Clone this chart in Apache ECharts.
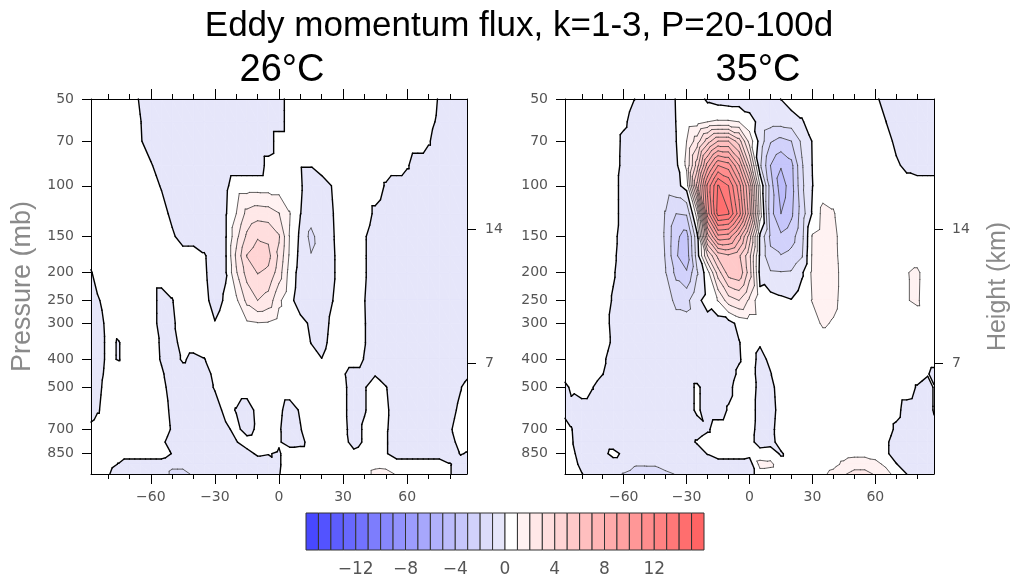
<!DOCTYPE html>
<html><head><meta charset="utf-8">
<script src="https://cdn.jsdelivr.net/npm/echarts@6/dist/echarts.min.js"></script>
<style>html,body{margin:0;padding:0;background:#fff}#c{width:1012px;height:581px}</style>
</head><body><div id="c"></div>
<script>
// ---------------- data ----------------
const lats = [-88,-85,-80,-75,-70,-65,-60,-55,-50,-45,-40,-35,-30,-25,-20,-15,-10,-5,0,5,10,15,20,25,30,35,40,45,50,55,60,65,70,75,80,85,88];
const pressures = [50,60,70,85,100,125,150,175,200,250,300,350,400,450,500,600,700,775,850,925,1000];

// 26°C panel, rows follow "pressures", columns follow "lats"
const field26 = [
[0.5,0.5,0.5,0.5,0.5,-0.1,-0.5,-0.5,-0.5,-0.5,-0.5,-0.5,-0.5,-0.5,-0.5,-0.5,-0.5,-0.5,-0.5,0.5,0.5,0.5,0.5,0.5,0.5,0.5,0.5,0.5,0.5,0.5,0.5,0.5,0.5,-0.1,-0.5,-0.5,-0.5],
[0.5,0.5,0.5,0.5,0.5,0.05,-0.5,-0.5,-0.5,-0.5,-0.5,-0.5,-0.5,-0.5,-0.5,-0.5,-0.5,-0.5,-0.5,0.5,0.5,0.5,0.5,0.5,0.5,0.5,0.5,0.5,0.5,0.5,0.5,0.5,0.3,-0.2,-0.5,-0.5,-0.5],
[0.5,0.5,0.5,0.5,0.5,0.1,-0.5,-0.5,-0.5,-0.5,-0.5,-0.5,-0.5,-0.5,-0.5,-0.5,-0.5,-0.5,0.5,0.5,0.5,0.5,0.5,0.5,0.5,0.5,0.5,0.5,0.5,0.5,0.5,0.5,0.1,-0.5,-0.5,-0.5,-0.5],
[0.5,0.5,0.5,0.5,0.5,0.5,0.1,-0.5,-0.5,-0.5,-0.5,-0.5,-0.5,-0.5,-0.5,-0.5,-0.5,0.3,0.5,0.5,0.05,0.05,0.5,0.5,0.5,0.5,0.5,0.5,0.5,0.5,0.1,-0.5,-0.5,-0.5,-0.5,-0.5,-0.5],
[0.5,0.5,0.5,0.5,0.5,0.5,0.5,-0.1,-0.5,-0.5,-0.5,-0.5,-0.5,-0.2,0.5,0.5,0.5,0.5,0.5,0.5,0.1,-0.5,-0.5,0.05,0.5,0.5,0.5,0.5,-0.1,-0.5,-0.5,-0.5,-0.5,-0.5,-0.5,-0.5,-0.5],
[0.5,0.5,0.5,0.5,0.5,0.5,0.5,0.5,-0.3,-0.5,-0.5,-0.5,-0.5,-0.1,1.0,2.3,2.6,2.5,2.05,1.05,0.02,-0.5,-0.5,-0.05,0.5,0.5,0.5,-0.2,-0.5,-0.5,-0.5,-0.5,-0.5,-0.5,-0.5,-0.5,-0.5],
[0.5,0.5,0.5,0.5,0.5,0.5,0.5,0.5,0.2,-0.5,-0.5,-0.5,-0.5,-0.1,1.7,3.2,3.9,3.8,3.1,0.95,-0.2,-1.3,-0.4,-0.1,0.5,0.5,0.1,-0.5,-0.5,-0.5,-0.5,-0.5,-0.5,-0.5,-0.5,-0.5,-0.5],
[0.5,0.5,0.5,0.5,0.5,0.5,0.5,0.5,0.5,0.5,0.5,0.1,-0.5,-0.1,2.2,4.05,4.6,4.3,2.8,0.85,-0.3,-0.95,-0.5,-0.15,0.5,0.5,0.1,-0.5,-0.5,-0.5,-0.5,-0.5,-0.5,-0.5,-0.5,-0.5,-0.5],
[-0.1,0.5,0.5,0.5,0.5,0.5,0.5,0.5,0.5,0.5,0.5,0.15,-0.5,-0.1,1.9,3.4,4.05,3.8,2.5,0.6,-0.4,-0.6,-0.5,-0.15,0.5,0.5,0.1,-0.5,-0.5,-0.5,-0.5,-0.5,-0.5,-0.5,-0.5,-0.5,-0.5],
[-0.5,-0.15,0.5,0.5,0.5,0.5,0.5,-0.4,-0.05,0.5,0.5,0.3,-0.4,0.15,0.8,2.3,3.0,2.6,1.2,0.3,-0.5,-0.5,-0.5,-0.02,0.5,0.5,0.02,-0.5,-0.5,-0.5,-0.5,-0.5,-0.5,-0.5,-0.5,-0.5,-0.5],
[-0.5,-0.3,0.2,0.5,0.5,0.5,0.5,-0.4,-0.2,0.5,0.5,0.5,0.05,0.5,0.6,0.85,0.95,0.9,0.6,0.4,0.3,-0.15,-0.4,0.2,0.5,0.5,0.05,-0.5,-0.5,-0.5,-0.5,-0.5,-0.5,-0.5,-0.5,-0.5,-0.5],
[-0.5,-0.3,0.15,-0.05,0.5,0.5,0.5,-0.15,-0.5,0.5,0.5,0.5,0.5,0.5,0.5,0.5,0.5,0.5,0.5,0.5,0.5,-0.02,-0.3,0.3,0.5,0.5,0.05,-0.5,-0.5,-0.5,-0.5,-0.5,-0.5,-0.5,-0.5,-0.5,-0.5],
[-0.5,-0.3,0.15,-0.05,0.5,0.5,0.5,-0.1,-0.5,0.15,-0.3,-0.05,0.5,0.5,0.5,0.5,0.5,0.5,0.5,0.5,0.5,0.3,0.02,0.5,0.5,0.5,-0.05,-0.5,-0.5,-0.5,-0.5,-0.5,-0.5,-0.5,-0.5,-0.5,-0.5],
[-0.5,-0.25,0.2,0.5,0.5,0.5,0.5,0.15,-0.5,-0.5,-0.5,-0.5,0.3,0.5,0.5,0.5,0.5,0.5,0.5,0.5,0.5,0.5,0.5,0.5,0.1,-0.4,-0.4,-0.05,-0.5,-0.5,-0.5,-0.5,-0.5,-0.5,-0.5,-0.5,-0.2],
[-0.5,-0.2,0.3,0.5,0.5,0.5,0.5,0.3,-0.4,-0.5,-0.5,-0.5,0.1,0.5,0.5,0.5,0.5,0.5,0.5,0.5,0.5,0.5,0.5,0.5,0.15,-0.3,-0.05,0.3,0.05,-0.5,-0.5,-0.5,-0.5,-0.5,-0.5,-0.05,0.3],
[-0.5,-0.1,0.4,0.5,0.5,0.5,0.5,0.4,-0.2,-0.5,-0.5,-0.5,-0.5,0.3,-0.05,-0.5,0.3,0.5,0.2,-0.4,0.1,0.5,0.5,0.5,0.15,-0.3,-0.05,0.3,0.15,-0.4,-0.5,-0.5,-0.5,-0.5,-0.3,0.2,0.4],
[0.3,0.5,0.5,0.5,0.5,0.5,0.5,0.5,-0.1,-0.5,-0.5,-0.5,-0.5,-0.2,0.25,-0.4,0.2,0.5,0.1,-0.5,-0.05,0.5,0.5,0.5,0.2,-0.3,0.1,0.4,0.1,-0.4,-0.5,-0.5,-0.5,-0.5,-0.1,0.4,0.5],
[0.5,0.5,0.5,0.5,0.5,0.5,0.5,0.2,-0.4,-0.5,-0.5,-0.5,-0.5,-0.5,-0.05,0.4,0.5,0.5,0.1,-0.4,-0.3,0.4,0.5,0.5,0.3,-0.3,0.1,0.4,0.1,-0.5,-0.5,-0.5,-0.5,-0.5,-0.3,0.3,0.3],
[0.5,0.5,0.5,0.5,0.5,0.5,0.5,0.5,-0.05,-0.5,-0.5,-0.5,-0.5,-0.5,-0.5,-0.3,0.15,0.05,-0.1,0.5,0.5,0.5,0.5,0.5,0.5,0.2,0.4,0.5,0.1,-0.5,-0.5,-0.5,-0.5,-0.5,-0.4,0.05,-0.05],
[0.5,0.5,0.3,-0.05,-0.5,-0.5,-0.5,-0.5,-0.8,-0.8,-0.5,-0.5,-0.5,-0.5,-0.5,-0.5,-0.5,-0.5,-0.1,0.5,0.5,0.5,0.5,0.5,0.5,0.5,0.5,0.7,0.6,0.5,0.5,0.5,0.5,0.5,0.05,-0.3,-0.5],
[0.5,0.5,0.1,-0.5,-0.5,-0.5,-0.5,-0.5,-1.2,-1.2,-0.9,-0.5,-0.5,-0.5,-0.5,-0.5,-0.5,-0.5,-0.05,0.5,0.5,0.5,0.5,0.5,0.5,0.5,0.5,1.3,1.4,0.9,0.5,0.5,0.5,0.5,0.05,-0.4,-0.5]
];

// 35°C panel
const field35 = [
[0.5,0.5,0.5,0.5,0.5,0.5,0.5,0.02,-0.5,-0.5,-0.5,0.05,0.5,0.5,-0.2,-0.4,-0.5,-0.5,-0.6,-0.8,-0.7,0.02,0.5,0.5,0.5,0.5,0.5,0.5,0.5,0.5,0.2,-0.4,-0.5,-0.5,-0.5,-0.5,-0.5],
[0.5,0.5,0.5,0.5,0.5,0.5,0.2,-0.4,-0.5,-0.5,-0.5,0.02,0.5,0.6,1.0,1.1,1.1,1.0,0.4,-0.3,-0.6,-0.6,-0.5,-0.1,0.5,0.5,0.5,0.5,0.5,0.5,0.5,0.02,-0.5,-0.5,-0.5,-0.5,-0.5],
[0.5,0.5,0.5,0.5,0.5,0.5,-0.25,-0.5,-0.5,-0.5,-0.5,-0.02,1.0,2.5,4.5,6,6,4.5,1.6,-0.4,-1.9,-2.3,-2.0,-0.8,0.05,0.5,0.5,0.5,0.5,0.5,0.5,0.5,-0.3,-0.5,-0.5,-0.5,-0.5],
[0.5,0.5,0.5,0.5,0.5,0.5,-0.3,-0.5,-0.5,-0.5,-0.5,-0.2,1.2,4.5,8.5,11,10.5,8,4,-0.8,-3.0,-3.9,-3.3,-1.1,0.02,0.5,0.5,0.5,0.5,0.5,0.5,0.5,0.2,-0.3,-0.5,-0.5,-0.5],
[0.5,0.5,0.5,0.5,0.5,0.5,-0.5,-0.5,-0.5,-0.5,-0.5,-0.3,0.4,6.3,11.3,14.1,13.0,10.5,6.8,1.0,-2.5,-4.6,-3.4,-1.2,-0.02,0.5,0.5,0.5,0.5,0.5,0.5,0.5,0.5,0.5,0.5,0.5,0.5],
[0.5,0.5,0.5,0.5,0.5,0.5,-0.5,-0.5,-0.5,-0.5,-1.05,-2.0,-1.9,1.5,10.5,14.4,14.1,11.5,7.5,1.5,-2.6,-4.0,-3.2,-1.5,0.1,1.3,1.1,0.4,0.5,0.5,0.5,0.5,0.5,0.5,0.5,0.5,0.5],
[0.5,0.5,0.5,0.5,0.5,0.3,-0.5,-0.5,-0.5,-0.5,-1.1,-2.8,-3.4,-0.3,6.5,9.7,9.5,7.5,4.5,-0.2,-2.2,-2.8,-2.4,-1.3,1.1,1.4,1.3,0.5,0.5,0.5,0.5,0.5,0.5,0.5,0.5,0.5,0.5],
[0.5,0.5,0.5,0.5,0.5,0.2,-0.5,-0.5,-0.5,-0.5,-1.05,-2.9,-3.6,-0.5,3.0,5.3,5.8,5.2,3.3,-0.2,-1.8,-1.95,-1.7,-1.1,1.15,1.5,1.35,0.5,0.5,0.5,0.5,0.5,0.5,0.5,0.5,0.5,0.5],
[0.5,0.5,0.5,0.5,0.5,0.1,-0.5,-0.5,-0.5,-0.5,-0.98,-2.3,-2.9,-1.1,0.6,3.5,5.5,5.8,3.5,-0.3,-0.9,-0.95,-0.9,-0.15,1.2,1.5,1.4,0.6,0.5,0.5,0.5,0.5,0.5,0.95,1.2,0.4,0.5],
[0.5,0.5,0.5,0.5,0.5,-0.1,-0.5,-0.5,-0.5,-0.5,-0.6,-1.2,-1.3,-0.2,0.3,1.05,2.5,3.0,1.8,0.3,0.4,0.2,0.05,0.5,1.05,1.5,1.3,0.6,0.5,0.5,0.5,0.5,0.5,0.95,1.15,0.4,0.5],
[0.5,0.5,0.5,0.5,0.5,-0.3,-0.5,-0.5,-0.5,-0.5,-0.6,-0.7,-0.7,-0.5,-0.3,-0.5,-0.4,0.3,0.5,0.5,0.5,0.5,0.5,0.5,0.6,1.15,0.9,0.5,0.5,0.5,0.5,0.5,0.5,0.5,0.5,0.5,0.5],
[0.5,0.5,0.5,0.5,0.5,-0.2,-0.5,-0.5,-0.5,-0.5,-0.5,-0.5,-0.5,-0.5,-0.5,-0.5,-0.5,-0.05,0.5,0.1,0.3,0.5,0.5,0.5,0.5,0.5,0.5,0.5,0.5,0.5,0.5,0.5,0.5,0.5,0.5,0.5,0.5],
[0.5,0.5,0.5,0.5,0.2,-0.5,-0.5,-0.5,-0.5,-0.5,-0.5,-0.5,-0.5,-0.5,-0.5,-0.5,-0.5,-0.1,0.5,-0.3,0.2,0.5,0.5,0.5,0.5,0.5,0.5,0.5,0.5,0.5,0.5,0.5,0.5,0.5,0.5,0.5,0.5],
[0.5,0.5,0.5,0.5,0.02,-0.5,-0.5,-0.5,-0.5,-0.5,-0.5,-0.5,-0.5,-0.5,-0.5,-0.5,-0.5,0.2,0.5,-0.4,-0.05,0.5,0.5,0.5,0.5,0.5,0.5,0.5,0.5,0.5,0.5,0.5,0.5,0.5,0.5,0.1,-0.4],
[-0.3,0.2,0.5,0.05,-0.5,-0.5,-0.5,-0.5,-0.5,-0.5,-0.5,-0.5,-0.5,0.2,-0.5,-0.5,-0.3,0.5,0.5,-0.3,-0.3,0.5,0.5,0.5,0.5,0.5,0.5,0.5,0.5,0.5,0.5,0.5,0.5,0.5,-0.1,-0.5,0.1],
[-0.3,-0.3,-0.5,-0.5,-0.5,-0.5,-0.5,-0.5,-0.5,-0.5,-0.5,-0.5,-0.5,0.2,-0.5,-0.5,0.1,0.5,0.5,-0.4,-0.4,0.4,0.5,0.5,0.5,0.5,0.5,0.5,0.5,0.5,0.5,0.5,0.3,-0.4,-0.5,-0.5,0.1],
[0.4,0.05,-0.5,-0.5,-0.5,-0.5,-0.5,-0.5,-0.5,-0.5,-0.5,-0.5,-0.5,-0.5,-0.15,0.5,0.5,0.5,0.4,-0.4,-0.3,0.5,0.5,0.5,0.5,0.5,0.5,0.5,0.5,0.5,0.5,0.5,-0.2,-0.5,-0.5,-0.5,-0.3],
[0.5,0.1,-0.5,-0.5,-0.5,-0.5,-0.5,-0.5,-0.5,-0.5,-0.5,-0.5,-0.4,0.1,0.5,0.5,0.5,0.5,0.4,-0.5,-0.4,0.5,0.5,0.5,0.5,0.5,0.5,0.5,0.5,0.5,0.5,0.2,-0.5,-0.5,-0.5,-0.5,-0.5],
[0.5,0.3,-0.5,-0.5,-0.3,0.3,-0.2,-0.5,-0.5,-0.5,-0.5,-0.5,-0.5,-0.5,0.05,0.5,0.5,0.5,0.3,0.5,0.6,-0.15,0.5,0.5,0.5,0.5,0.5,0.6,0.7,0.7,0.6,0.2,-0.5,-0.5,-0.5,-0.5,-0.5],
[0.5,0.5,-0.3,-0.5,-0.5,-0.5,-0.5,-0.9,-0.9,-0.9,-0.6,-0.5,-0.5,-0.5,-0.5,-0.5,-0.5,-0.5,-0.5,1.3,1.2,0.5,0.5,0.5,0.5,0.5,0.7,1.2,1.6,1.6,1.3,0.8,0.05,-0.5,-0.5,-0.5,-0.5],
[0.5,0.5,0.05,-0.5,-0.5,-0.8,-1.05,-1.3,-1.45,-1.4,-1.2,-0.95,-0.5,-0.5,-0.5,-0.5,-0.5,-0.5,-0.5,0.6,0.6,0.5,0.5,0.5,0.5,0.8,1.3,1.9,2.3,2.3,1.9,1.4,0.6,0.0,-0.5,-0.5,-0.5]
];

const pressureTicks = [50,70,100,150,200,250,300,400,500,700,850];
const latLabelTicks = [-60,-30,0,30,60];
const latMinorTicks = [-80,-70,-50,-40,-20,-10,10,20,40,50,70,80];
const heightTickLabels = [14,7];
const heightTickPressures = [142,413];
const contourLevels = [-15,-14,-13,-12,-11,-10,-9,-8,-7,-6,-5,-4,-3,-2,-1,0,1,2,3,4,5,6,7,8,9,10,11,12,13,14,15];
const colorbarTicks = [-12,-8,-4,0,4,8,12];
const panelTitles = ['26°C','35°C'];

// ---------------- style ----------------
const palette = ['#4848ff','#5353ff','#5d5dfe','#6868fe','#7272fe','#7d7dfd','#8787fd','#9292fd','#9c9cfc','#a7a7fc','#b1b1fc','#bcbcfb','#c6c6fb','#d1d1fb','#dcdcfa','#e6e6fa',
 '#ffffff','#fff2f2','#ffe8e8','#ffdede','#ffd4d4','#ffc9c9','#ffbfbf','#ffb5b5','#ffabab','#ffa1a1','#ff9797','#ff8d8d','#ff8282','#ff7878','#ff6e6e','#ff6464'];
const SANS = 'Liberation Sans, Arial, sans-serif';
const DJV = 'DejaVu Sans, sans-serif';

const lnP = pressures.map(p => Math.log(p));
const lnPressureTicks = pressureTicks.map(p => Math.log(p));
const lnHeightTicks = heightTickPressures.map(p => Math.log(p));
const nLev = contourLevels.length;
const lowest = contourLevels[0], highest = contourLevels[nLev - 1];

function bandIndex(v) {
  let k = 0;
  while (k < nLev && v >= contourLevels[k]) k++;
  return k;
}
function clip(P, V, level, keepAbove) {
  const oP = [], oV = [];
  for (let i = 0; i < P.length; i++) {
    const j = (i + 1) % P.length;
    const a = V[i], b = V[j];
    const inA = keepAbove ? a >= level : a < level;
    const inB = keepAbove ? b >= level : b < level;
    if (inA) { oP.push(P[i]); oV.push(a); }
    if (inA !== inB) {
      const t = (level - a) / (b - a);
      oP.push([P[i][0] + t * (P[j][0] - P[i][0]), P[i][1] + t * (P[j][1] - P[i][1])]);
      oV.push(level);
    }
  }
  return [oP, oV];
}
function triFills(tp, tv, out) {
  const k0 = bandIndex(Math.min(...tv)), k1 = bandIndex(Math.max(...tv));
  for (let k = k0; k <= k1; k++) {
    let P = tp, V = tv;
    if (k > 0) { [P, V] = clip(P, V, contourLevels[k - 1], true); }
    if (P.length < 3) continue;
    if (k < nLev) { [P, V] = clip(P, V, contourLevels[k], false); }
    if (P.length < 3) continue;
    out.push({type: 'polygon', shape: {points: P}, silent: true,
      style: {fill: palette[k], stroke: palette[k], lineWidth: 0.7}});
  }
}
function triLines(tp, tv, out) {
  for (const L of contourLevels) {
    const seg = [];
    for (let e = 0; e < 3; e++) {
      const f = (e + 1) % 3, a = tv[e], b = tv[f];
      if ((a >= L) !== (b >= L)) {
        const t = (L - a) / (b - a);
        seg.push([tp[e][0] + t * (tp[f][0] - tp[e][0]), tp[e][1] + t * (tp[f][1] - tp[e][1])]);
      }
    }
    if (seg.length === 2) {
      out.push({type: 'line', silent: true,
        shape: {x1: seg[0][0], y1: seg[0][1], x2: seg[1][0], y2: seg[1][1]},
        style: {stroke: L === 0 ? '#000' : '#3a3a3a', lineWidth: L === 0 ? 1.4 : 0.8, lineCap: 'round'}});
    }
  }
}
function makeRenderer(field, mode) {
  return function (params, api) {
    const i = api.value(2), j = api.value(3);
    const corners = [[i, j], [i + 1, j], [i + 1, j + 1], [i, j + 1]];
    const pts = corners.map(c => api.coord([lats[c[0]], lnP[c[1]]]));
    const vals = corners.map(c => field[c[1]][c[0]]);
    const children = [];
    for (const tri of [[0, 1, 2], [0, 2, 3]]) {
      const tp = tri.map(k => pts[k]), tv = tri.map(k => vals[k]);
      if (mode === 'fill') triFills(tp, tv, children); else triLines(tp, tv, children);
    }
    return {type: 'group', children};
  };
}
const cellData = [];
for (let j = 0; j < pressures.length - 1; j++)
  for (let i = 0; i < lats.length - 1; i++)
    cellData.push([(lats[i] + lats[i + 1]) / 2, (lnP[j] + lnP[j + 1]) / 2, i, j]);

const signed = v => (v < 0 ? '\u2212' + (-v) : String(v));
const tickLabelStyle = {fontSize: 14, color: '#555', fontFamily: DJV};

const grids = [
  {left: 91, top: 99, width: 376, height: 375},
  {left: 565, top: 99, width: 375, height: 375},
  {left: 306, top: 513, width: 398, height: 37}
];
const xAxes = [], yAxes = [], series = [];
[field26, field35].forEach((field, g) => {
  const base = {type: 'value', gridIndex: g, min: -88, max: 88, splitLine: {show: false}, z: 5};
  const line = {show: true, onZero: false, lineStyle: {color: '#000', width: 1}};
  const tickStyle = {color: '#000', width: 1};
  xAxes.push(
    {...base, position: 'bottom', axisLine: line,
      axisTick: {show: true, customValues: latLabelTicks, length: 10, lineStyle: tickStyle},
      axisLabel: {show: true, customValues: latLabelTicks, formatter: signed, margin: 16, ...tickLabelStyle}},
    {...base, position: 'bottom', axisLine: {show: false, onZero: false},
      axisTick: {show: true, customValues: latMinorTicks, length: 5, lineStyle: tickStyle}, axisLabel: {show: false}},
    {...base, position: 'top', axisLine: line,
      axisTick: {show: true, customValues: latLabelTicks, length: 10, lineStyle: tickStyle}, axisLabel: {show: false}},
    {...base, position: 'top', axisLine: {show: false, onZero: false},
      axisTick: {show: true, customValues: latMinorTicks, length: 5, lineStyle: tickStyle}, axisLabel: {show: false}}
  );
  const ybase = {type: 'value', gridIndex: g, min: Math.log(50), max: Math.log(1000), inverse: true, splitLine: {show: false}, z: 5};
  yAxes.push(
    {...ybase, position: 'left', axisLine: line,
      axisTick: {show: true, customValues: lnPressureTicks, length: 9, lineStyle: tickStyle},
      axisLabel: {show: true, customValues: lnPressureTicks, margin: 17, ...tickLabelStyle,
        formatter: v => String(Math.round(Math.exp(v)))},
      name: g === 0 ? 'Pressure (mb)' : '', nameLocation: 'middle', nameRotate: 90, nameGap: 55,
      nameTextStyle: {fontSize: 27, color: '#8a8a8a', fontFamily: SANS}},
    {...ybase, position: 'right', axisLine: line,
      axisTick: {show: true, customValues: lnHeightTicks, length: 9, lineStyle: tickStyle},
      axisLabel: {show: true, customValues: lnHeightTicks, margin: 18, ...tickLabelStyle,
        formatter: v => {
          let best = 0;
          lnHeightTicks.forEach((t, k) => { if (Math.abs(t - v) < Math.abs(lnHeightTicks[best] - v)) best = k; });
          return String(heightTickLabels[best]);
        }},
      name: g === 1 ? 'Height (km)' : '', nameLocation: 'middle', nameRotate: 90, nameGap: 52,
      nameTextStyle: {fontSize: 25, color: '#8a8a8a', fontFamily: SANS}}
  );
  series.push(
    {type: 'custom', xAxisIndex: g * 4, yAxisIndex: g * 2, data: cellData, encode: {x: 0, y: 1},
      renderItem: makeRenderer(field, 'fill'), silent: true, z: 1, progressive: 0, animation: false},
    {type: 'custom', xAxisIndex: g * 4, yAxisIndex: g * 2, data: cellData, encode: {x: 0, y: 1},
      renderItem: makeRenderer(field, 'line'), silent: true, z: 2, progressive: 0, animation: false}
  );
});
// colorbar
xAxes.push({type: 'value', gridIndex: 2, min: lowest - 1, max: highest + 1, splitLine: {show: false},
  axisLine: {show: false, onZero: false}, axisTick: {show: false},
  axisLabel: {show: true, customValues: colorbarTicks, formatter: signed, margin: 11, fontSize: 17, color: '#555', fontFamily: DJV}});
yAxes.push({type: 'value', gridIndex: 2, min: 0, max: 1, show: false});
const bandData = palette.map((c, k) => [lowest - 0.5 + k, 0.5, k]);
series.push({type: 'custom', xAxisIndex: 8, yAxisIndex: 4, data: bandData, encode: {x: 0, y: 1}, silent: true, animation: false,
  renderItem: (params, api) => {
    const k = api.value(2);
    const lo = k === 0 ? lowest - 1 : contourLevels[k - 1];
    const hi = k === nLev ? highest + 1 : contourLevels[k];
    const p0 = api.coord([lo, 1]), p1 = api.coord([hi, 0]);
    return {type: 'rect', shape: {x: p0[0], y: p0[1], width: p1[0] - p0[0], height: p1[1] - p0[1]},
      style: {fill: palette[k], stroke: '#333', lineWidth: 1}};
  }});

const chart = echarts.init(document.getElementById('c'), null, {renderer: 'canvas'});
chart.setOption({
  animation: false,
  backgroundColor: '#fff',
  title: [
    {text: 'Eddy momentum flux, k=1-3, P=20-100d', left: 514, top: 4, textAlign: 'center',
      textStyle: {fontSize: 35, fontWeight: 'normal', color: '#000', fontFamily: SANS}},
    {text: panelTitles[0], left: 277, top: 47, textAlign: 'center',
      textStyle: {fontSize: 38, fontWeight: 'normal', color: '#000', fontFamily: SANS}},
    {text: panelTitles[1], left: 753, top: 47, textAlign: 'center',
      textStyle: {fontSize: 38, fontWeight: 'normal', color: '#000', fontFamily: SANS}}
  ],
  grid: grids,
  xAxis: xAxes,
  yAxis: yAxes,
  series: series
});
</script></body></html>
